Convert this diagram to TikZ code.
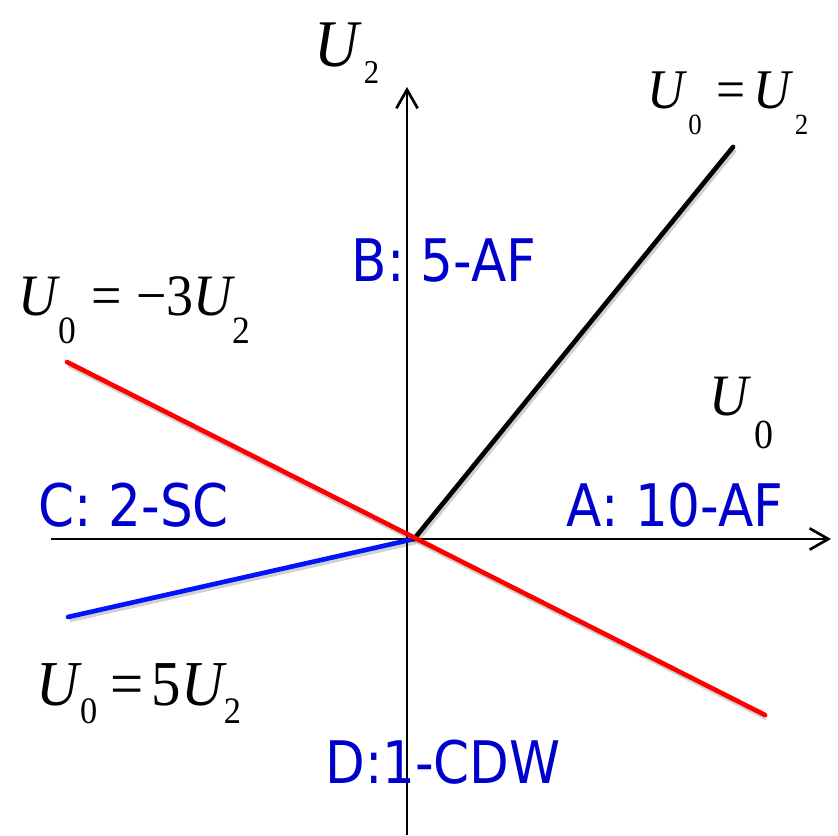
\documentclass[tikz,border=0pt]{standalone}
\usepackage{fontspec}
\setmainfont[FakeStretch=0.92]{Liberation Serif}
\newfontfamily\phasefont[FakeStretch=0.88]{DejaVu Sans}
\usetikzlibrary{arrows.meta}
\definecolor{phaseblue}{RGB}{0,0,204}
\newcommand{\lowsub}[3]{\raisebox{-#1}{\fontsize{#2}{#2}\selectfont #3}}

\tikzset{
  axis/.style={line width=2pt, -{Straight Barb[length=14pt,width=16pt]}},
  phaseline/.style={line width=3.5pt, line cap=round,
    preaction={draw=black, draw opacity=0.18, line width=4pt,
      transform canvas={xshift=1.2pt,yshift=-2pt}}},
  phase/.style={anchor=base, inner sep=0pt, text=phaseblue,
    font=\phasefont\fontsize{44}{44}\selectfont},
  eqn/.style={anchor=base west, inner sep=0pt}
}

\begin{document}
\begin{tikzpicture}[x=0.75pt,y=0.75pt,yscale=-1]
\useasboundingbox (0,0) rectangle (838,835);

%axes
\coordinate (xleft) at (51,539);
\coordinate (xright) at (831,539);
\coordinate (ybottom) at (407,835);
\coordinate (ytop) at (407,87);
\draw [axis] (xleft) -- (xright);
\draw [axis] (ybottom) -- (ytop);

%phase boundaries
\coordinate (O) at (414,539);
\coordinate (blueend) at (68,617);
\coordinate (blackend) at (733,147);
\coordinate (redleft) at (67,362);
\coordinate (redright) at (765,715);
\draw [phaseline, color={rgb, 255:red, 0; green, 20; blue, 255 }] (blueend) -- (O);
\draw [phaseline, color=black] (O) -- (blackend);
\draw [phaseline, color={rgb, 255:red, 255; green, 0; blue, 0 }] (redleft) -- (redright);

% axis labels
\node (labelUtwo) [eqn, font=\fontsize{50}{50}\selectfont] at (314,66) {{\itshape U}\kern4pt\lowsub{13pt}{25}{2}};
\node (labelUzero) [eqn, font=\fontsize{44}{44}\selectfont] at (709,415) {{\itshape U}\kern5pt\lowsub{25pt}{31}{0}};

% boundary labels
\node (eqblack) [eqn, font=\fontsize{42}{42}\selectfont] at (647,108) {{\itshape U}\kern3pt\lowsub{20pt}{22}{0}\hspace{11pt}=\hspace{6pt}{\itshape U}\kern3pt\lowsub{20pt}{22}{2}};
\node (eqred) [eqn, font=\fontsize{44}{44}\selectfont] at (18,315) {{\itshape U}\kern1pt\lowsub{21pt}{29}{0}\hspace{11pt}=\hspace{11pt}−3{\itshape U}\kern0pt\lowsub{21pt}{29}{2}};
\node (eqblue) [eqn, font=\fontsize{48}{48}\selectfont] at (36,705) {{\itshape U}\kern1pt\lowsub{14pt}{28}{0}\hspace{10pt}=\hspace{6pt}5{\itshape U}\kern0pt\lowsub{14pt}{28}{2}};

% phases
\node (phaseA) [phase] at (675,526) {A: 10-AF};
\node (phaseB) [phase] at (444,281) {B: 5-AF};
\node (phaseC) [phase] at (134,526) {C: 2-SC};
\node (phaseD) [phase] at (443,783) {D:1-CDW};

\end{tikzpicture}
\end{document}
